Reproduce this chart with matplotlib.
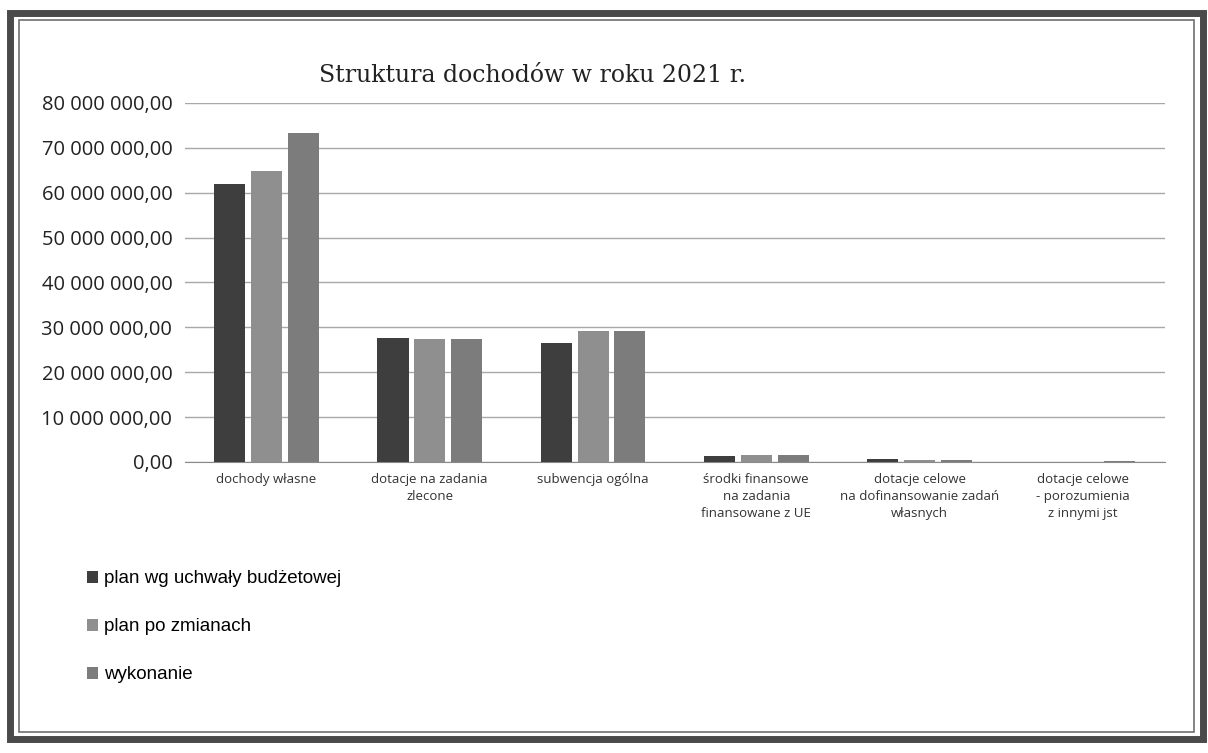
import matplotlib.pyplot as plt
from matplotlib.patches import Rectangle
from matplotlib.ticker import FuncFormatter, MultipleLocator
import numpy as np

categories = [
    'dochody własne',
    'dotacje na zadania\nzlecone',
    'subwencja ogólna',
    'środki finansowe\nna zadania\nfinansowane z UE',
    'dotacje celowe\nna dofinansowanie zadań\nwłasnych',
    'dotacje celowe\n- porozumienia\nz innymi jst',
]
series_names = ['plan wg uchwały budżetowej', 'plan po zmianach', 'wykonanie']
plan_uchwala = [61.9e6, 27.6e6, 26.4e6, 1.4e6, 0.55e6, 0.05e6]
plan_zmiany = [64.9e6, 27.5e6, 29.1e6, 1.5e6, 0.5e6, 0.08e6]
wykonanie = [73.4e6, 27.5e6, 29.1e6, 1.5e6, 0.5e6, 0.2e6]
values = [plan_uchwala, plan_zmiany, wykonanie]
colors = ['#3e3e3e', '#8f8f8f', '#7c7c7c']

fig = plt.figure(figsize=(12.08, 7.53), dpi=100)
fig.patch.set_facecolor('white')

# ramka jak na skanie
fig.add_artist(Rectangle((0.008, 0.018), 0.988, 0.965, transform=fig.transFigure,
                         fill=False, lw=5, ec='#4a4a4a'))
fig.add_artist(Rectangle((0.016, 0.028), 0.972, 0.945, transform=fig.transFigure,
                         fill=False, lw=1.2, ec='#707070'))

ax = fig.add_axes([0.153, 0.3865, 0.811, 0.4768])
x = np.arange(len(categories))
width = 0.19
step = 0.225
for i, (vals, name, col) in enumerate(zip(values, series_names, colors)):
    ax.bar(x + (i - 1) * step, vals, width, color=col, label=name, zorder=3)

ax.set_xlim(-0.5, len(categories) - 0.5)
ax.set_ylim(0, 80e6)
ax.yaxis.set_major_locator(MultipleLocator(10e6))
ax.yaxis.set_major_formatter(FuncFormatter(
    lambda v, p: f'{v:,.2f}'.replace(',', ' ').replace('.', ',')))
ax.grid(axis='y', color='#a8a8a8', lw=1.0, zorder=0)
for s in ['top', 'right', 'left']:
    ax.spines[s].set_visible(False)
ax.spines['bottom'].set_color('#8a8a8a')
ax.tick_params(axis='both', length=0)
ax.tick_params(axis='y', labelsize=14.5, colors='#222222', pad=9)
for lab in ax.get_yticklabels():
    lab.set_fontfamily('Open Sans')
ax.set_xticks(x)
ax.set_xticklabels(categories, fontsize=9.5, color='#333333', linespacing=1.4,
                   family='Open Sans', va='top')
ax.tick_params(axis='x', pad=8)

fig.text(0.441, 0.9, 'Struktura dochodów w roku 2021 r.', fontsize=17,
         family='DejaVu Serif', ha='center', va='center', color='#222222')

handles, labels = ax.get_legend_handles_labels()
fig.legend(handles, labels, loc='upper left', bbox_to_anchor=(0.058, 0.265),
           frameon=False, handlelength=0.6, handleheight=0.6,
           handletextpad=0.3, labelspacing=1.65,
           prop={'family': ['Liberation Sans Narrow', 'Liberation Sans'], 'size': 13.5})

fig.savefig('out.png', dpi=100)
